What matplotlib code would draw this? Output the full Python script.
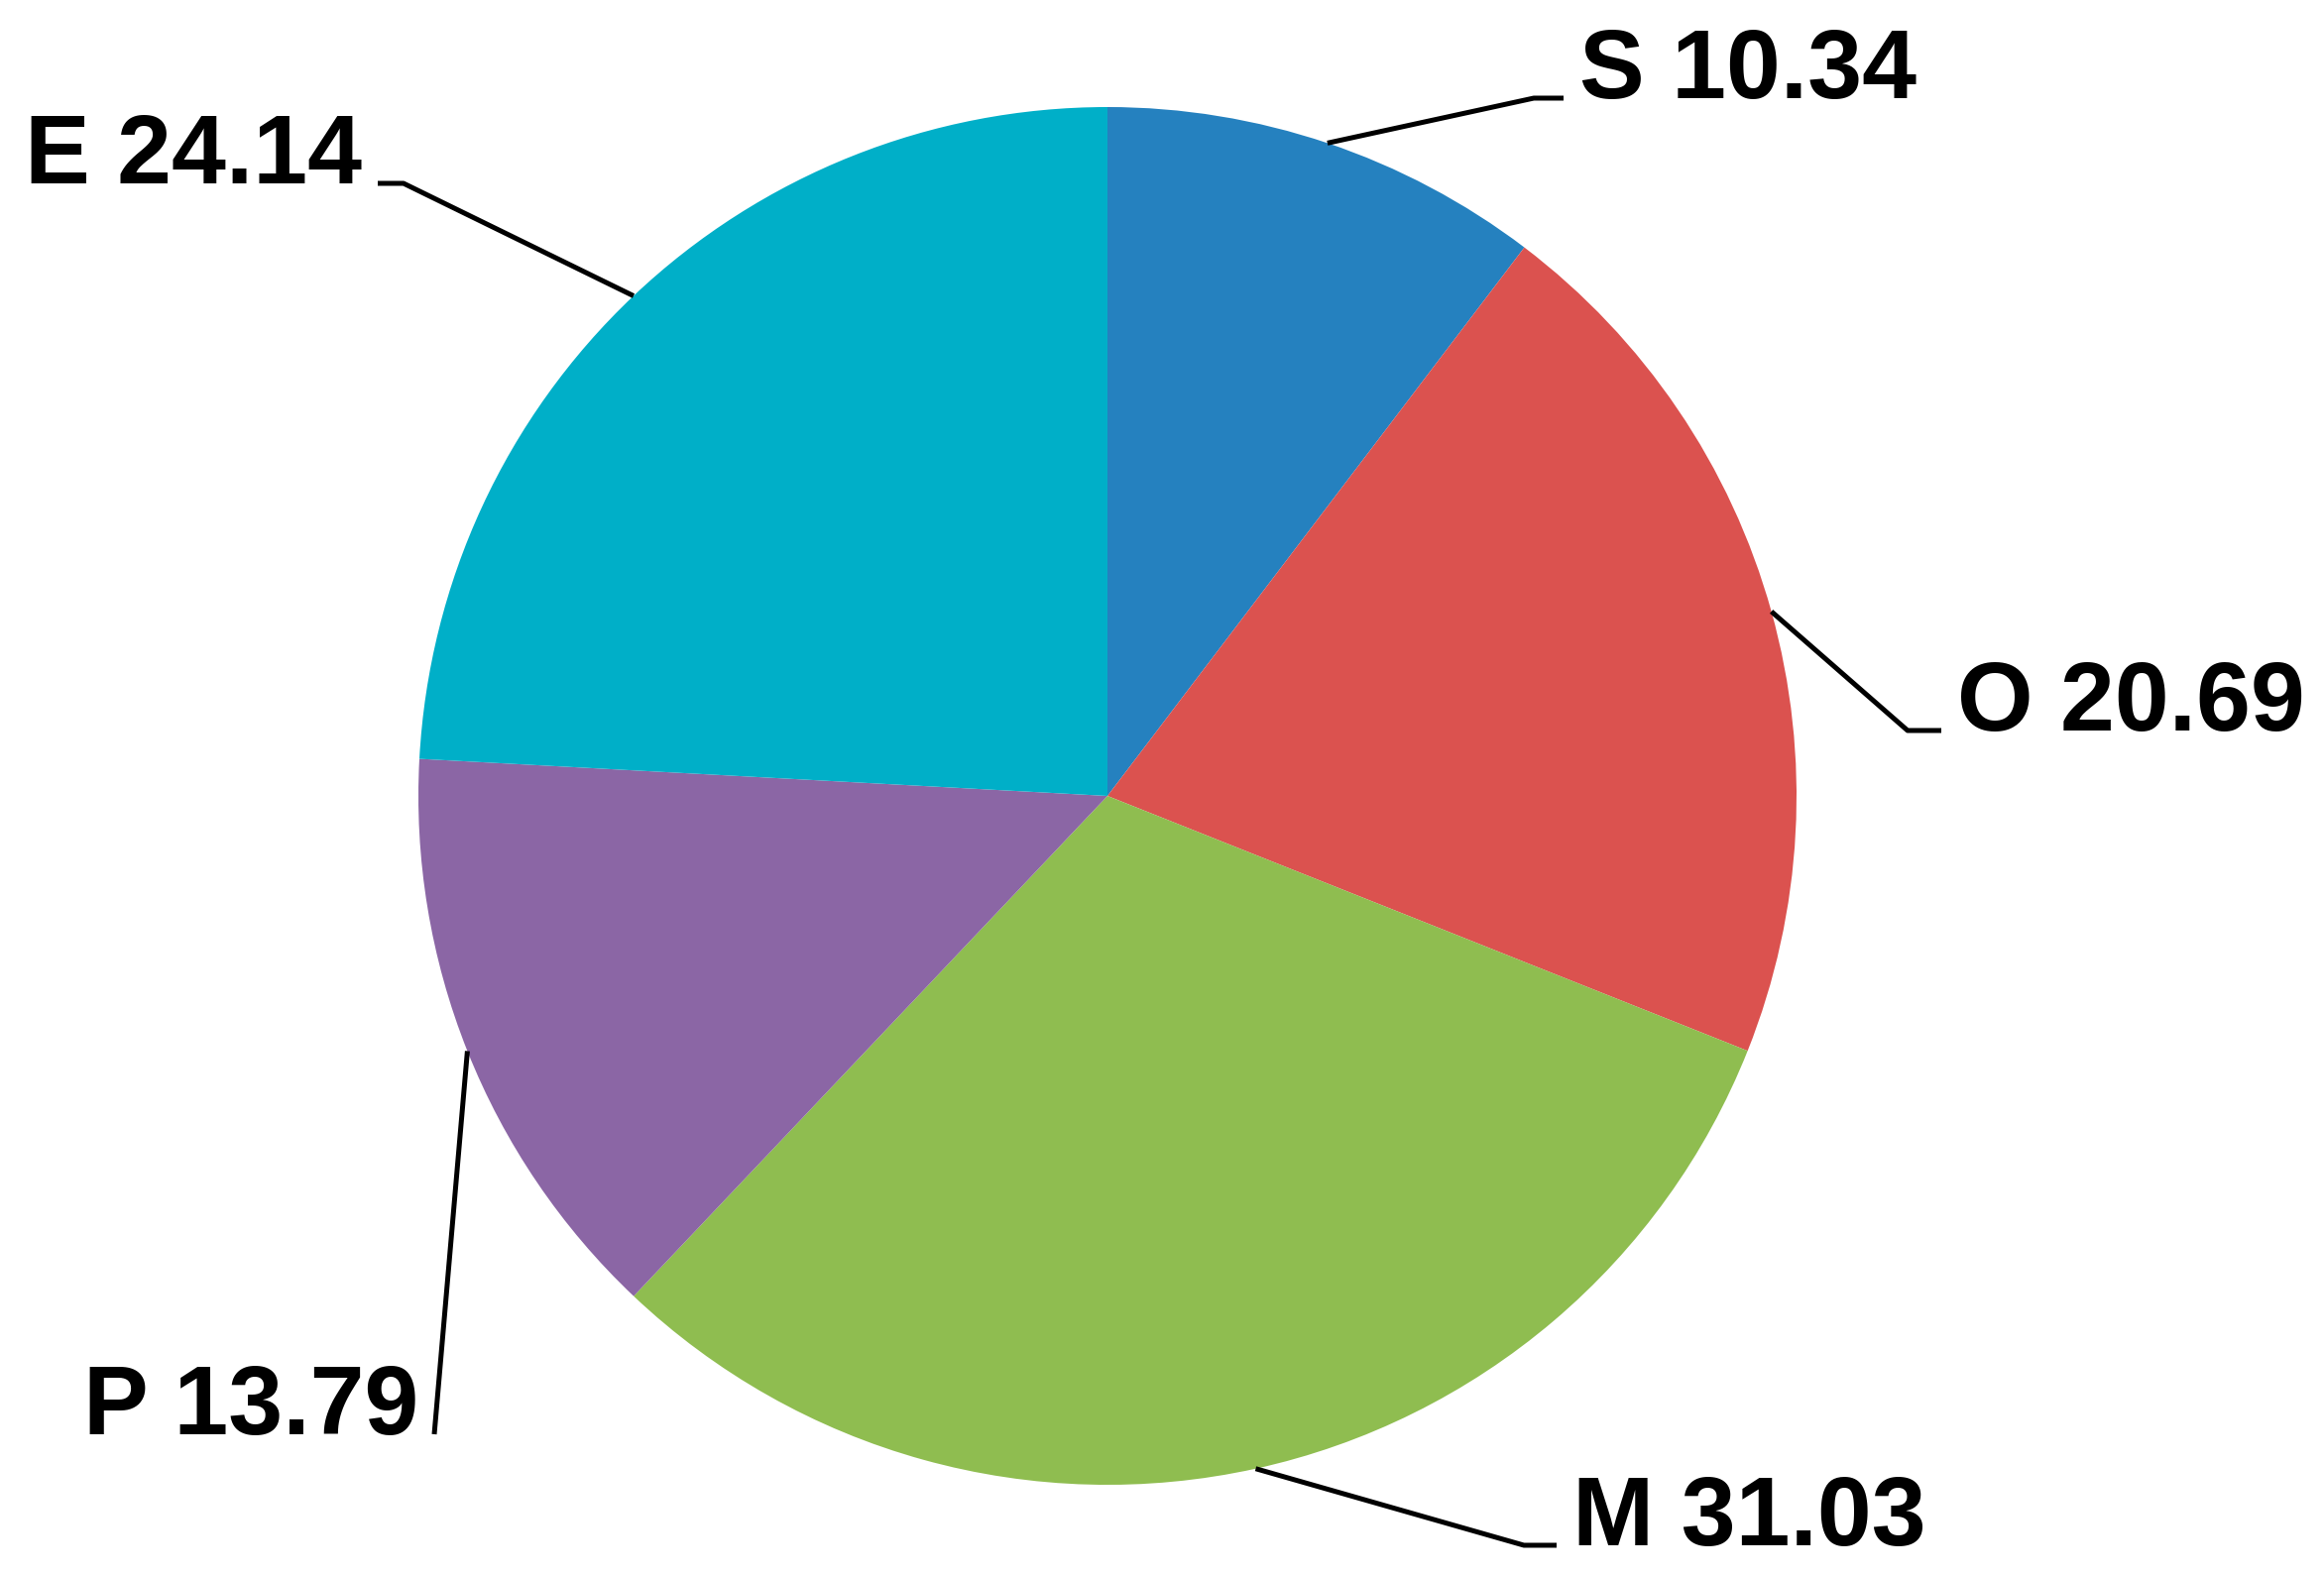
import numpy as np
import matplotlib.pyplot as plt

# slice data, clockwise from 12 o'clock
labels = ["S", "O", "M", "P", "E"]
values = [10.34, 20.69, 31.03, 13.79, 24.14]
colors = ["#2581bf", "#db524f", "#8fbd50", "#8b66a5", "#00afc8"]

W, H = 2344, 1589
cx, cy, R = 1117, H - 803, 695

# label layout in image pixels (y down): elbow, end of horizontal tick, side
elbows = {"S": (1547, 99, 1577, "left"),
          "O": (1924, 737, 1958, "left"),
          "M": (1537, 1559, 1570, "left"),
          "P": (438, 1447, 438, "right"),
          "E": (407, 185, 381, "right")}

plt.rcParams["font.family"] = ["Liberation Sans", "DejaVu Sans"]

fig = plt.figure(figsize=(W / 100, H / 100), dpi=100)
ax = fig.add_axes([0, 0, 1, 1])

wedges, _ = ax.pie(values, colors=colors, startangle=90, counterclock=False,
                   center=(cx, cy), radius=R, wedgeprops=dict(linewidth=0))

for w, lab, val in zip(wedges, labels, values):
    ang = np.deg2rad((w.theta1 + w.theta2) / 2)
    x0, y0 = cx + R * np.cos(ang), cy + R * np.sin(ang)
    ex, ey, tx, side = elbows[lab]
    ax.plot([x0, ex, tx], [y0, H - ey, H - ey], color="black", lw=3.6,
            solid_capstyle="butt")
    if side == "left":
        ax.text(tx + 16, H - ey, f"{lab} {val:.2f}", ha="left", va="baseline",
                fontsize=71, fontweight="bold")
    else:
        ax.text(tx - 16, H - ey, f"{lab} {val:.2f}", ha="right", va="baseline",
                fontsize=71, fontweight="bold")

ax.set_xlim(0, W)
ax.set_ylim(0, H)
ax.set_aspect("equal")
ax.axis("off")

fig.savefig("out.png", dpi=100, facecolor="white")
